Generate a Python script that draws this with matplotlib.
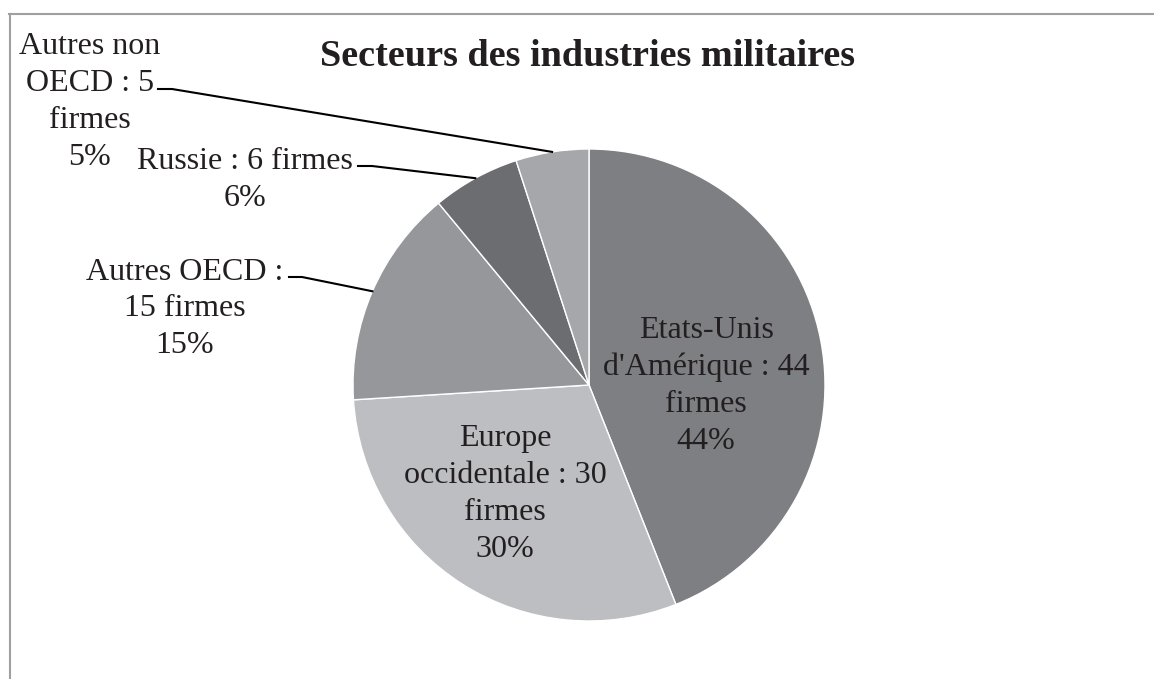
import numpy as np
import matplotlib
matplotlib.use('Agg')
import matplotlib.pyplot as plt
from matplotlib.lines import Line2D

# Données
regions = ["Etats-Unis\nd'Amérique : 44\nfirmes",
           "Europe\noccidentale : 30\nfirmes",
           "Autres OECD :\n15 firmes",
           "Russie : 6 firmes",
           "Autres non\nOECD : 5\nfirmes"]
firmes = [44, 30, 15, 6, 5]
couleurs = ['#7e7f83', '#bdbec2', '#96979b', '#6c6d71', '#a6a7ab']

W, H = 1154, 679
plt.rcParams['font.family'] = ['Liberation Serif', 'DejaVu Serif']
texte = '#231f20'
fs = 23
ls = 1.36

fig = plt.figure(figsize=(W / 100, H / 100), dpi=100)
ax = fig.add_axes([0, 0, 1, 1])

cx, cy, r = 589, H - 385, 236
wedges, _ = ax.pie(firmes, colors=couleurs, startangle=90, counterclock=False,
                   center=(cx, cy), radius=r, frame=True,
                   wedgeprops=dict(edgecolor='white', linewidth=1))
ax.set_xlim(0, W)
ax.set_ylim(0, H)
ax.set_aspect('equal')
ax.axis('off')

total = sum(firmes)
pct = [f'{round(v * 100 / total)}%' for v in firmes]

# étiquettes à l'intérieur
inside = {0: (706, 386), 1: (505, 494)}
for i, (x, y) in inside.items():
    ax.text(x, H - y, regions[i] + '\n' + pct[i], ha='center', va='center',
            fontsize=fs, color=texte, linespacing=ls)

# étiquettes à l'extérieur avec traits de rappel
outside = {2: ((185, 309), (289, 277), (302, 277)),
           3: ((245, 180), (358, 166), (372, 166)),
           4: ((90, 102), (158, 89), (172, 89))}
for i, ((x, y), p0, p1) in outside.items():
    ax.text(x, H - y, regions[i] + '\n' + pct[i], ha='center', va='center',
            fontsize=fs, color=texte, linespacing=ls)
    w = wedges[i]
    ang = np.deg2rad((w.theta1 + w.theta2) / 2)
    ex, ey = cx + r * np.cos(ang), cy + r * np.sin(ang)
    ax.plot([p0[0], p1[0], ex], [H - p0[1], H - p1[1], ey], color='black', lw=1.5)

ax.text(588, H - 57, 'Secteurs des industries militaires', ha='center', va='center',
        fontsize=27.5, fontweight='bold', color=texte)

# cadre
fig.add_artist(Line2D([9.5 / W, 9.5 / W], [0, 1 - 14 / H], color='#a0a0a0', lw=1.5))
fig.add_artist(Line2D([9 / W, 1], [1 - 14 / H, 1 - 14 / H], color='#a0a0a0', lw=1.5))

fig.savefig('out.png', dpi=100, facecolor='white')
